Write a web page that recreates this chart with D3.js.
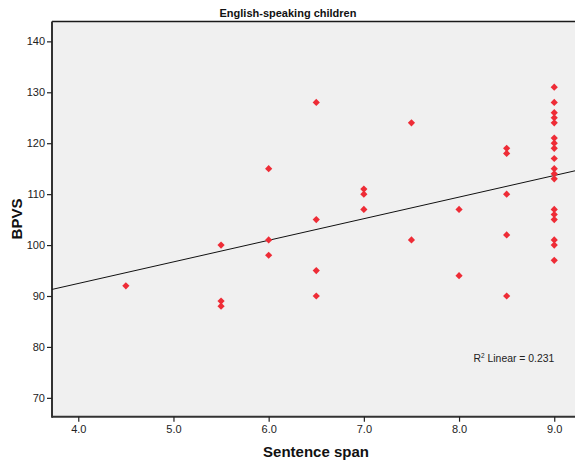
<!DOCTYPE html>
<html>
<head>
<meta charset="utf-8">
<script src="https://cdn.jsdelivr.net/npm/d3@7"></script>
<style>
  html, body { margin: 0; padding: 0; background: #ffffff; }
  svg { display: block; font-family: Arial, "Liberation Sans", sans-serif; }
</style>
</head>
<body>
<svg id="chart" width="575" height="463"></svg>
<script>
// ---- data ----
const sentenceSpan = [
  4.5,
  5.5, 5.5, 5.5,
  6.0, 6.0, 6.0,
  6.5, 6.5, 6.5, 6.5,
  7.0, 7.0, 7.0,
  7.5, 7.5,
  8.0, 8.0,
  8.5, 8.5, 8.5, 8.5, 8.5,
  9.0, 9.0, 9.0, 9.0, 9.0, 9.0, 9.0, 9.0, 9.0, 9.0, 9.0, 9.0, 9.0, 9.0, 9.0, 9.0, 9.0, 9.0
];
const bpvs = [
  92,
  100, 89, 88,
  115, 101, 98,
  128, 105, 95, 90,
  111, 110, 107,
  124, 101,
  107, 94,
  119, 118, 110, 102, 90,
  131, 128, 126, 125, 124, 121, 120, 119, 117, 115, 114, 113, 107, 106, 105, 101, 100, 97
];
const xTicks = [4.0, 5.0, 6.0, 7.0, 8.0, 9.0];
const yTicks = [70, 80, 90, 100, 110, 120, 130, 140];
// fit line as drawn in the picture
const fitIntercept = 75.5;
const fitSlope = 4.24;
const chartTitle = "English-speaking children";
const xTitle = "Sentence span";
const yTitle = "BPVS";
const fitLabel = "Linear = 0.231";

// ---- layout ----
const svg = d3.select("#chart");
const pLeft = 52, pRight = 575, pTop = 21.5, pBottom = 416.7;
const x = d3.scaleLinear().domain([3.724, 9.218]).range([pLeft, pRight]);
const y = d3.scaleLinear().domain([66.3, 143.9]).range([pBottom, pTop]);

// plot background
svg.append("rect")
  .attr("x", pLeft).attr("y", pTop)
  .attr("width", pRight - pLeft).attr("height", pBottom - pTop)
  .attr("fill", "#f0f0f0");

// top frame line
svg.append("line")
  .attr("x1", pLeft).attr("x2", pRight)
  .attr("y1", pTop).attr("y2", pTop)
  .attr("stroke", "#1a1a1a").attr("stroke-width", 1.5);

// axes
const xAxis = d3.axisBottom(x).tickValues(xTicks).tickFormat(d3.format(".1f"))
  .tickSizeInner(5).tickSizeOuter(0).tickPadding(4);
const yAxis = d3.axisLeft(y).tickValues(yTicks).tickFormat(d3.format("d"))
  .tickSizeInner(5).tickSizeOuter(0).tickPadding(2);

const gx = svg.append("g").attr("transform", `translate(0,${pBottom})`).call(xAxis);
const gy = svg.append("g").attr("transform", `translate(${pLeft},0)`).call(yAxis);

[gx, gy].forEach(g => {
  g.select(".domain").attr("stroke", "#333").attr("stroke-width", 2);
  g.selectAll(".tick line").attr("stroke", "#222").attr("stroke-width", 1.2);
  g.selectAll(".tick text").attr("fill", "#222").attr("font-size", 11)
    .attr("font-family", "Arial, 'Liberation Sans', sans-serif");
});
gx.select(".domain").attr("d", `M${pLeft},0H${pRight}`);
gy.select(".domain").attr("d", `M0,${pTop}V${pBottom + 1}`);

// fit line
const xd = x.domain();
svg.append("line")
  .attr("x1", x(xd[0])).attr("y1", y(fitIntercept + fitSlope * xd[0]))
  .attr("x2", x(xd[1])).attr("y2", y(fitIntercept + fitSlope * xd[1]))
  .attr("stroke", "#111").attr("stroke-width", 1);

// points
const pts = sentenceSpan.map((d, i) => ({ x: d, y: bpvs[i] }));
const sym = d3.symbol().type(d3.symbolSquare).size(26);
svg.append("g").selectAll("path").data(pts).join("path")
  .attr("d", sym)
  .attr("transform", d => `translate(${x(d.x)},${y(d.y)}) rotate(45)`)
  .attr("fill", "#ee2c36");

// R² label
const rl = svg.append("text")
  .attr("x", 473.5).attr("y", 361.5)
  .attr("font-size", 10.4).attr("fill", "#222");
rl.append("tspan").text("R");
rl.append("tspan").text("2").attr("font-size", 6.5).attr("dy", -4);
rl.append("tspan").text(" " + fitLabel).attr("dy", 4);

// titles
svg.append("text")
  .attr("x", 288).attr("y", 17)
  .attr("text-anchor", "middle")
  .attr("font-size", 11).attr("font-weight", "bold").attr("fill", "#111")
  .text(chartTitle);

svg.append("text")
  .attr("x", 316).attr("y", 457)
  .attr("text-anchor", "middle")
  .attr("font-size", 15).attr("font-weight", "bold").attr("fill", "#111")
  .text(xTitle);

svg.append("text")
  .attr("transform", `translate(22,219) rotate(-90)`)
  .attr("text-anchor", "middle")
  .attr("font-size", 15).attr("font-weight", "bold").attr("fill", "#111")
  .text(yTitle);
</script>
</body>
</html>
